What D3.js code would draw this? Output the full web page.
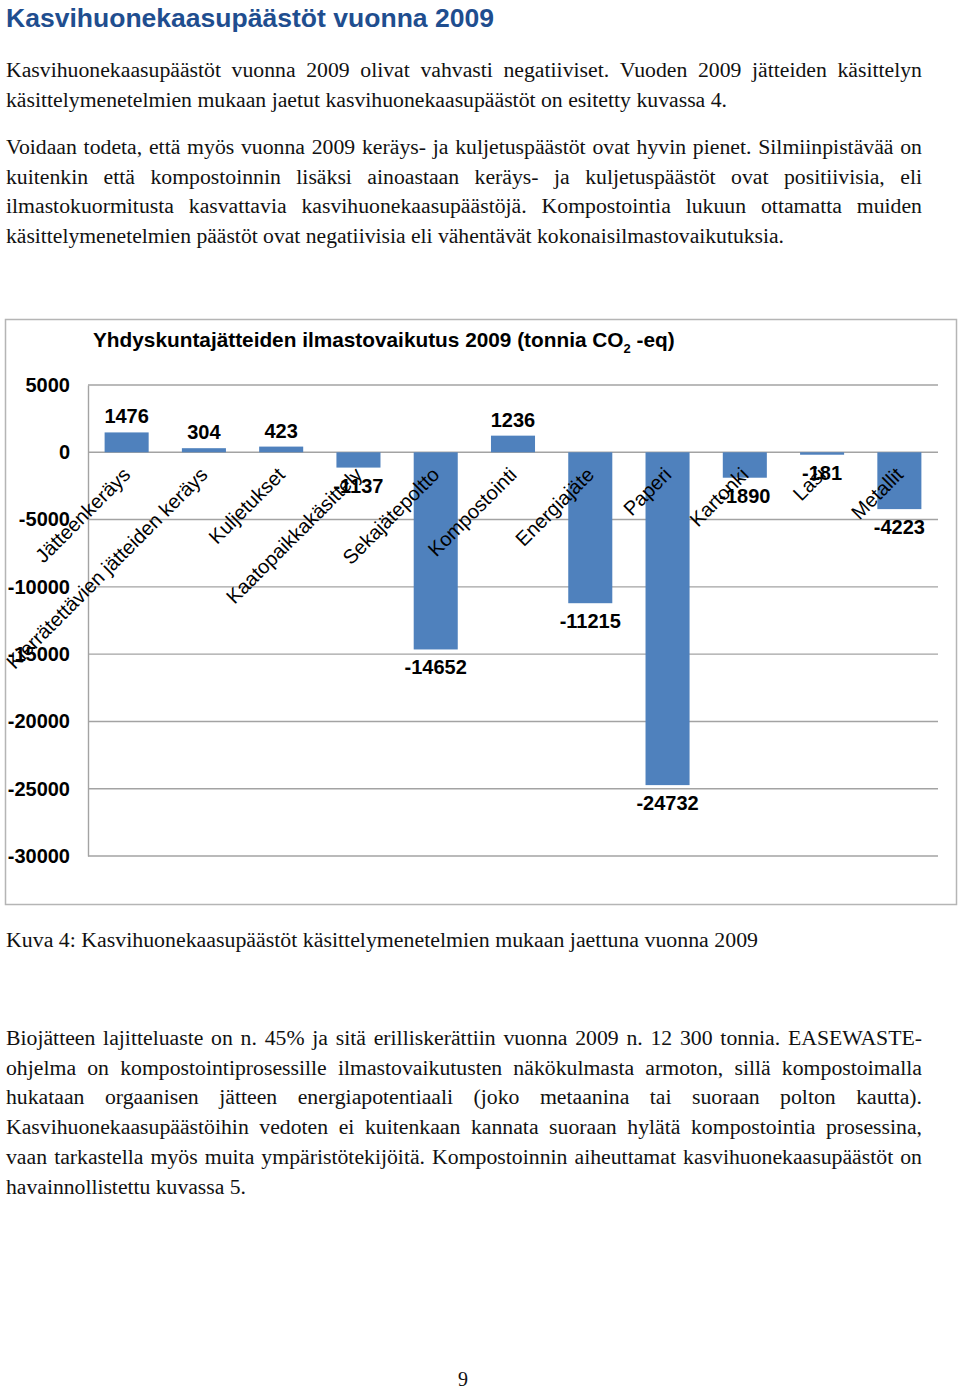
<!DOCTYPE html>
<html>
<head>
<meta charset="utf-8">
<script src="https://cdn.jsdelivr.net/npm/d3@7"></script>
<style>
  html, body { margin: 0; padding: 0; background: #fff; }
  svg { display: block; }
</style>
</head>
<body>
<svg id="page" width="960" height="1391"></svg>
<script>
// ---------- DATA ----------
const categories = ["Jätteenkeräys", "Kierrätettävien jätteiden keräys", "Kuljetukset",
  "Kaatopaikkakäsittely", "Sekajätepoltto", "Kompostointi", "Energiajäte",
  "Paperi", "Kartonki", "Lasi", "Metallit"];
const values = [1476, 304, 423, -1137, -14652, 1236, -11215, -24732, -1890, -181, -4223];
const yTicks = [5000, 0, -5000, -10000, -15000, -20000, -25000, -30000];

const pageTitle = "Kasvihuonekaasupäästöt vuonna 2009";
const para1 = [
  "Kasvihuonekaasupäästöt vuonna 2009 olivat vahvasti negatiiviset. Vuoden 2009 jätteiden käsittelyn",
  "käsittelymenetelmien mukaan jaetut kasvihuonekaasupäästöt on esitetty kuvassa 4."
];
const para2 = [
  "Voidaan todeta, että myös vuonna 2009 keräys- ja kuljetuspäästöt ovat hyvin pienet. Silmiinpistävää on",
  "kuitenkin että kompostoinnin lisäksi ainoastaan keräys- ja kuljetuspäästöt ovat positiivisia, eli",
  "ilmastokuormitusta kasvattavia kasvihuonekaasupäästöjä. Kompostointia lukuun ottamatta muiden",
  "käsittelymenetelmien päästöt ovat negatiivisia eli vähentävät kokonaisilmastovaikutuksia."
];
const caption = ["Kuva 4: Kasvihuonekaasupäästöt käsittelymenetelmien mukaan jaettuna vuonna 2009"];
const para3 = [
  "Biojätteen lajitteluaste on n. 45% ja sitä erilliskerättiin vuonna 2009 n. 12 300 tonnia. EASEWASTE-",
  "ohjelma on kompostointiprosessille ilmastovaikutusten näkökulmasta armoton, sillä kompostoimalla",
  "hukataan orgaanisen jätteen energiapotentiaali (joko metaanina tai suoraan polton kautta).",
  "Kasvihuonekaasupäästöihin vedoten ei kuitenkaan kannata suoraan hylätä kompostointia prosessina,",
  "vaan tarkastella myös muita ympäristötekijöitä. Kompostoinnin aiheuttamat kasvihuonekaasupäästöt on",
  "havainnollistettu kuvassa 5."
];
const pageNumber = "9";

// ---------- LAYOUT ----------
const svg = d3.select("#page");
svg.append("rect").attr("width", 960).attr("height", 1391).attr("fill", "#fff");

const serif = "'Liberation Serif', 'Times New Roman', serif";
const sans = "'Liberation Sans', Arial, sans-serif";
const textLeft = 6, textRight = 922, lineH = 29.7, fs = 20;

svg.append("text")
  .attr("x", 6).attr("y", 27)
  .attr("font-family", sans).attr("font-weight", "bold").attr("font-size", 26)
  .attr("fill", "#1f4e8f")
  .attr("textLength", 488).attr("lengthAdjust", "spacingAndGlyphs")
  .text(pageTitle);

// horizontal glyph scale derived from unjustified lines of known extent
function naturalWidth(str) {
  const t = svg.append("text").attr("font-family", serif).attr("font-size", fs).text(str);
  const w = t.node().getComputedTextLength();
  t.remove();
  return w;
}
const hScale = d3.mean([
  (727 - textLeft) / naturalWidth(para1[1]),
  (784 - textLeft) / naturalWidth(para2[3]),
  (758 - textLeft) / naturalWidth(caption[0])
]);

function paragraph(lines, y0, lastEnd) {
  lines.forEach((line, i) => {
    const y = y0 + i * lineH;
    const isLast = i === lines.length - 1;
    if (isLast) {
      svg.append("text")
        .attr("x", textLeft).attr("y", y)
        .attr("font-family", serif).attr("font-size", fs).attr("fill", "#111")
        .attr("textLength", lastEnd - textLeft).attr("lengthAdjust", "spacingAndGlyphs")
        .text(line);
    } else {
      const words = line.split(" ");
      const g = svg.append("g");
      const nodes = words.map(w => g.append("text")
        .attr("y", y).attr("font-family", serif).attr("font-size", fs).attr("fill", "#111")
        .text(w));
      const widths = nodes.map(n => n.node().getComputedTextLength() * hScale);
      const total = d3.sum(widths);
      const gap = (textRight - textLeft - total) / (words.length - 1);
      let x = textLeft;
      nodes.forEach((n, k) => {
        n.attr("x", x).attr("textLength", widths[k]).attr("lengthAdjust", "spacingAndGlyphs");
        x += widths[k] + gap;
      });
    }
  });
}
paragraph(para1, 77, 727);
paragraph(para2, 154, 784);
paragraph(caption, 947, 758);
paragraph(para3, 1045, 246);

svg.append("text")
  .attr("x", 463).attr("y", 1386).attr("text-anchor", "middle")
  .attr("font-family", serif).attr("font-size", 20).attr("fill", "#111")
  .text(pageNumber);

// ---------- CHART ----------
svg.append("rect")
  .attr("x", 5.5).attr("y", 319.5).attr("width", 951).attr("height", 585)
  .attr("fill", "#fff").attr("stroke", "#b5b5b5").attr("stroke-width", 1.5);

const chartTitle = svg.append("text")
  .attr("x", 93).attr("y", 347)
  .attr("font-family", sans).attr("font-weight", "bold").attr("font-size", 20.8).attr("fill", "#000");
chartTitle.append("tspan").text("Yhdyskuntajätteiden ilmastovaikutus 2009 (tonnia CO");
chartTitle.append("tspan").attr("font-size", 13).attr("dy", 6).text("2");
chartTitle.append("tspan").attr("dy", -6).text(" -eq)");

const plotL = 88, plotR = 938;
const y = d3.scaleLinear().domain([-30000, 5000]).range([856, 385]);
const x = d3.scaleBand().domain(categories).range([plotL, plotR])
  .paddingInner(0.43).paddingOuter(0.215);

// gridlines
const gridColor = "#a3a3a3";
svg.append("g").selectAll("line").data(yTicks).join("line")
  .attr("x1", plotL).attr("x2", plotR)
  .attr("y1", d => y(d)).attr("y2", d => y(d))
  .attr("stroke", gridColor).attr("stroke-width", 1.4);

// y axis
const yAxis = svg.append("g").attr("transform", `translate(${plotL},0)`)
  .call(d3.axisLeft(y).tickValues(yTicks).tickSize(0).tickPadding(18).tickFormat(d => String(d)));
yAxis.select(".domain").attr("stroke", gridColor).attr("stroke-width", 1.4);
yAxis.selectAll("text")
  .attr("font-family", sans).attr("font-weight", "bold").attr("font-size", 20).attr("fill", "#000");

// bars
svg.append("g").selectAll("rect").data(values).join("rect")
  .attr("x", (d, i) => x(categories[i]))
  .attr("width", x.bandwidth())
  .attr("y", d => y(Math.max(0, d)))
  .attr("height", d => Math.abs(y(d) - y(0)))
  .attr("fill", "#4f81bd");

// category labels (rotated)
svg.append("g").selectAll("text").data(categories).join("text")
  .attr("transform", d => `translate(${x(d) + x.bandwidth() / 2 + 5},476) rotate(-45)`)
  .attr("text-anchor", "end")
  .attr("font-family", sans).attr("font-size", 20).attr("fill", "#000")
  .text(d => d);

// value labels
svg.append("g").selectAll("text").data(values).join("text")
  .attr("x", (d, i) => x(categories[i]) + x.bandwidth() / 2)
  .attr("y", d => d >= 0 ? y(d) - 9 : y(d) + 25)
  .attr("text-anchor", "middle")
  .attr("font-family", sans).attr("font-weight", "bold").attr("font-size", 20).attr("fill", "#000")
  .text(d => String(d));
</script>
</body>
</html>
